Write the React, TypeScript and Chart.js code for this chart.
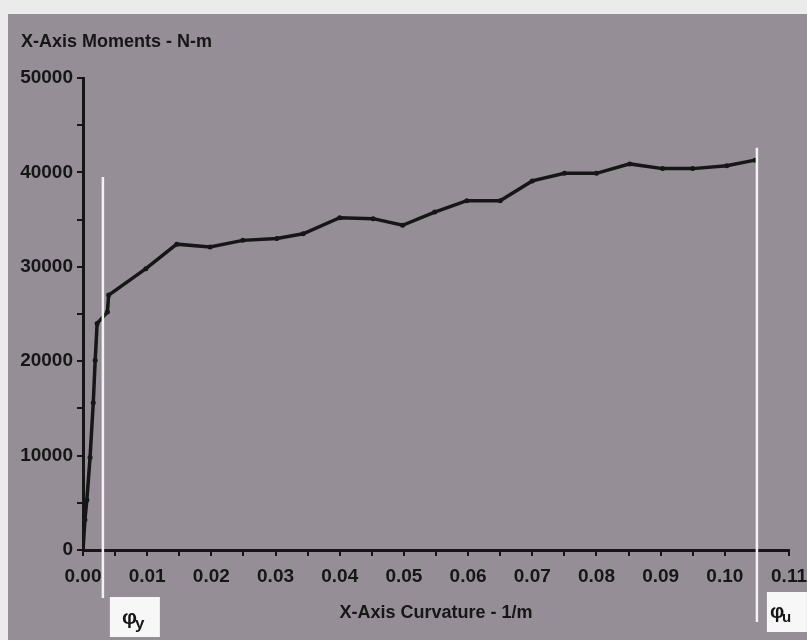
import React, { useEffect, useRef } from "react";
import { Chart, registerables } from "chart.js";

Chart.register(...registerables);

// Curvature (1/m) and X-axis moment (N-m)
const curvature = [
  0, 0.0003, 0.0006, 0.0011, 0.0016, 0.0019, 0.0022, 0.0038, 0.004, 0.0098,
  0.0146, 0.0198, 0.0249, 0.0302, 0.0343, 0.04, 0.0452, 0.0498, 0.0548, 0.0598,
  0.065, 0.07, 0.075, 0.08, 0.0852, 0.0903, 0.095, 0.1003, 0.1047,
];
const moments = [
  0, 3200, 5300, 9800, 15600, 20100, 24000, 25200, 27000, 29800,
  32400, 32100, 32800, 33000, 33500, 35200, 35100, 34400, 35800, 37000,
  37000, 39100, 39900, 39900, 40900, 40400, 40400, 40700, 41300,
];

const yTitle = "X-Axis Moments - N-m";
const xTitle = "X-Axis Curvature - 1/m";

// Yield and ultimate curvature markers
const phiY = 0.0031;
const phiYTop = 39500;
const phiU = 0.105;
const phiUTop = 42600;

const FONT = '"Liberation Sans", Arial, sans-serif';
const INK = "#161616";
const BG = "#958e97";

const decor = {
  id: "decor",
  beforeDraw(chart: any) {
    const { ctx, width, height } = chart;
    ctx.save();
    ctx.fillStyle = "#ebebeb";
    ctx.fillRect(0, 0, width, height);
    ctx.fillStyle = BG;
    ctx.fillRect(8, 14, width - 8, height - 14);
    ctx.restore();
  },
  afterDatasetsDraw(chart: any) {
    const { ctx, scales, chartArea } = chart;
    const xs = scales.x;
    const ys = scales.y;
    ctx.save();
    // title of y axis
    ctx.fillStyle = INK;
    ctx.font = `bold 18px ${FONT}`;
    ctx.textBaseline = "middle";
    ctx.textAlign = "left";
    ctx.fillText(yTitle, 21, 42);

    // white marker lines
    ctx.strokeStyle = "#f2f2f2";
    ctx.lineWidth = 2.5;
    const xY = xs.getPixelForValue(phiY);
    const xU = xs.getPixelForValue(phiU);
    ctx.beginPath();
    ctx.moveTo(xY, ys.getPixelForValue(phiYTop));
    ctx.lineTo(xY, chartArea.bottom + 48);
    ctx.moveTo(xU, ys.getPixelForValue(phiUTop));
    ctx.lineTo(xU, chartArea.bottom + 72);
    ctx.stroke();

    // label boxes
    ctx.fillStyle = "#f7f7f7";
    ctx.fillRect(xY + 7, chartArea.bottom + 47, 50, 40);
    ctx.fillRect(xU + 10, chartArea.bottom + 42, 40, 40);

    ctx.fillStyle = INK;
    ctx.textBaseline = "alphabetic";
    ctx.font = `bold 21px ${FONT}`;
    ctx.fillText("φ", xY + 19, chartArea.bottom + 74);
    ctx.font = `bold 17px ${FONT}`;
    ctx.fillText("y", xY + 32, chartArea.bottom + 79);
    ctx.font = `bold 20px ${FONT}`;
    ctx.fillText("φ", xU + 13, chartArea.bottom + 68);
    ctx.font = `bold 15px ${FONT}`;
    ctx.fillText("u", xU + 25, chartArea.bottom + 72);
    ctx.restore();
  },
};

export default function App() {
  const ref = useRef<HTMLCanvasElement | null>(null);

  useEffect(() => {
    if (!ref.current) return;
    const chart = new Chart(ref.current, {
      type: "line",
      data: {
        datasets: [
          {
            data: curvature.map((c, i) => ({ x: c, y: moments[i] })),
            borderColor: INK,
            backgroundColor: INK,
            borderWidth: 3.5,
            pointRadius: 2.5,
            pointBorderWidth: 0,
            tension: 0,
          },
        ],
      },
      options: {
        animation: false,
        responsive: false,
        devicePixelRatio: 1,
        layout: { padding: { top: 78, right: 18, left: 0, bottom: 0 } },
        plugins: {
          legend: { display: false },
          tooltip: { enabled: false },
        },
        scales: {
          x: {
            type: "linear",
            min: 0,
            max: 0.11,
            afterFit: (s: any) => {
              s.height = 90;
              s.paddingLeft = 0;
              s.paddingRight = 0;
            },
            border: { display: true, color: INK, width: 3 },
            grid: {
              display: true,
              drawOnChartArea: false,
              drawTicks: true,
              tickLength: 6,
              color: INK,
              lineWidth: 2,
            },
            ticks: {
              stepSize: 0.005,
              autoSkip: false,
              maxRotation: 0,
              padding: 9,
              color: INK,
              font: { family: FONT, size: 19, weight: "bold" },
              callback: (v: any) => {
                const r = Math.round(Number(v) * 1000);
                return r % 10 === 0 ? (r / 1000).toFixed(2) : "";
              },
            },
            title: {
              display: true,
              text: xTitle,
              color: INK,
              font: { family: FONT, size: 18, weight: "bold" },
              padding: { top: 0, bottom: 16 },
            },
          },
          y: {
            type: "linear",
            min: 0,
            max: 50000,
            afterFit: (s: any) => {
              s.width = 83;
              s.paddingTop = 0;
              s.paddingBottom = 0;
            },
            border: { display: true, color: INK, width: 3 },
            grid: {
              display: true,
              drawOnChartArea: false,
              drawTicks: true,
              tickLength: 6,
              color: INK,
              lineWidth: 2,
            },
            ticks: {
              stepSize: 5000,
              autoSkip: false,
              padding: 4,
              color: INK,
              font: { family: FONT, size: 19, weight: "bold" },
              callback: (v: any) => (Number(v) % 10000 === 0 ? String(v) : ""),
            },
          },
        },
      },
      plugins: [decor],
    });
    return () => chart.destroy();
  }, []);

  return (
    <div style={{ position: "absolute", left: 0, top: 0, width: 807, height: 640 }}>
      <canvas ref={ref} width={807} height={640} style={{ display: "block" }} />
    </div>
  );
}
